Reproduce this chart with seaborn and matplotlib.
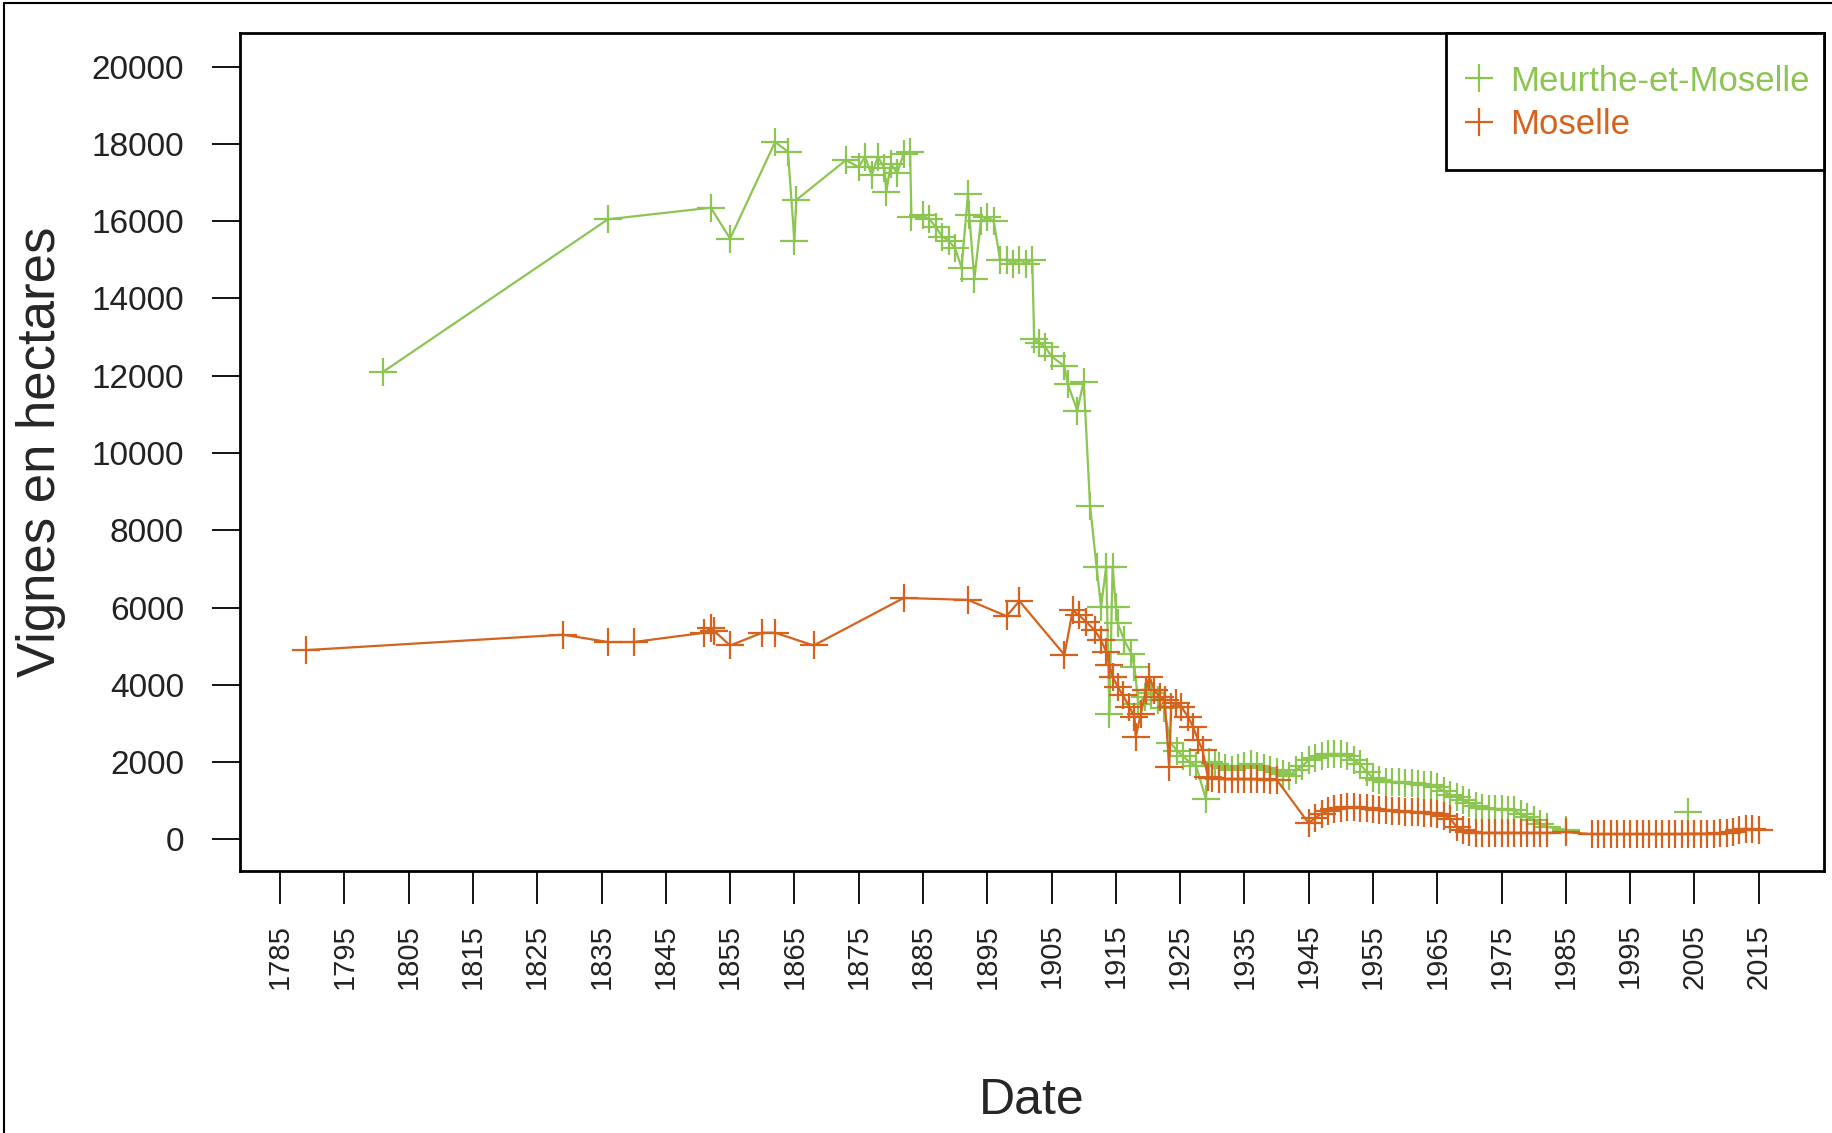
"""Surface des vignes en Meurthe-et-Moselle et en Moselle."""
import pandas as pd
import matplotlib
matplotlib.use("Agg")
import matplotlib.pyplot as plt
import seaborn as sns
from matplotlib.lines import Line2D
from matplotlib.patches import Rectangle

# Meurthe-et-Moselle
mm_years = [1801, 1836, 1852, 1855, 1862, 1864, 1865, 1865.3,
            1873, 1875, 1876, 1877, 1878, 1879, 1879.3, 1880, 1881, 1882, 1883, 1883.2,
            1885, 1886, 1887, 1888, 1889, 1890, 1891, 1892, 1892.2, 1893,
            1894, 1895, 1896, 1897, 1898, 1899, 1900, 1901, 1902, 1902.3,
            1903, 1904, 1905, 1907, 1907.5, 1909, 1910, 1911, 1912, 1912.7,
            1913.5, 1914, 1914.5, 1915, 1915.3, 1916.3, 1917.4, 1917.9,
            1918.5, 1919.5, 1920.5, 1921.5, 1922.5, 1923.5, 1924.5, 1925.5, 1926.5, 1927.5,
            1929, 1929.5, 1930.5, 1931, 1932, 1933, 1934, 1935, 1936, 1937, 1938, 1939,
            1940, 1941, 1942, 1943, 1944, 1945, 1946, 1947, 1948, 1949, 1950, 1951,
            1952, 1953, 1954, 1955, 1956, 1957, 1958, 1959, 1960, 1961, 1962, 1963,
            1964, 1965, 1966, 1967, 1968, 1969, 1970, 1971, 1972, 1973, 1974, 1975,
            1976, 1977, 1978, 1979, 1980, 1981, 1982, 1985]
mm_ha = [12100, 16050, 16350, 15550, 18050, 17800, 15500, 16550,
         17580, 17400, 17670, 17190, 17670, 17370, 16760, 17490, 17240, 17750, 17800, 16100,
         16150, 16050, 15850, 15600, 15500, 15300, 14800, 16700, 16150, 14500,
         16000, 16100, 16000, 15000, 15000, 14900, 15000, 14900, 15000, 12950,
         12850, 12750, 12500, 12250, 11800, 11100, 11850, 8620, 7060, 6020,
         7060, 3260, 7060, 6020, 5590, 5160, 4810, 4470,
         3500, 3700, 3800, 3600, 3400, 2500, 2300, 2150, 2000, 1900,
         1050, 2000, 1950, 1900, 1850, 1800, 1850, 1900, 1950, 1900, 1850, 1800,
         1750, 1700, 1650, 1800, 1900, 2050, 2100, 2150, 2200, 2200, 2200, 2150,
         2050, 1950, 1750, 1600, 1530, 1500, 1480, 1480, 1460, 1450, 1440, 1420,
         1400, 1350, 1250, 1150, 1100, 1020, 950, 870, 820, 800, 790, 780,
         770, 750, 650, 580, 500, 400, 330, 250]
mm_iso_year = [2004]
mm_iso_ha = [700]

# Moselle
mo_years = [1789, 1829, 1836, 1840, 1851, 1852, 1852.5, 1855, 1860, 1862, 1868,
            1882, 1892, 1898, 1900, 1907, 1908.3, 1909.3, 1910.4, 1911.7, 1912.7,
            1913.5, 1914, 1914.5, 1915.3, 1916.1, 1917.1, 1917.9, 1918.1, 1918.9,
            1919.7, 1920.2, 1921, 1921.8, 1922.6, 1923.3, 1923.6, 1924.4, 1925.2,
            1926.2, 1927, 1927.8, 1928.5, 1929.3,
            1930, 1931, 1932, 1933, 1934, 1935, 1936, 1937, 1938, 1939, 1940,
            1945, 1946, 1947, 1948, 1949, 1950, 1951, 1952, 1953, 1954, 1955, 1956,
            1957, 1958, 1959, 1960, 1961, 1962, 1963, 1964, 1965, 1966, 1967, 1968,
            1969, 1970, 1971, 1972, 1973, 1974, 1975, 1976, 1977, 1978, 1979, 1980,
            1981, 1982, 1985,
            1989, 1990, 1991, 1992, 1993, 1994, 1995, 1996, 1997, 1998, 1999, 2000,
            2001, 2002, 2003, 2004, 2005, 2006, 2007, 2008, 2009, 2010, 2011, 2012,
            2013, 2014, 2015]
mo_ha = [4900, 5300, 5110, 5110, 5350, 5480, 5400, 5020, 5350, 5350, 5020,
         6250, 6200, 5780, 6170, 4780, 5930, 5800, 5630, 5420, 5160,
         4860, 4510, 4210, 3950, 3740, 3430, 3180, 2660, 3260,
         3870, 4210, 3870, 3690, 3610, 1880, 3430, 3520, 3430,
         3180, 2920, 2570, 2310, 1620,
         1580, 1570, 1560, 1560, 1560, 1560, 1560, 1560, 1560, 1550, 1550,
         420, 560, 670, 740, 790, 820, 830, 830, 820, 810, 790, 770,
         750, 740, 730, 720, 710, 700, 690, 680, 660, 620, 540, 330,
         250, 200, 180, 170, 170, 170, 170, 170, 170, 170, 170, 170,
         170, 170, 190,
         140, 140, 140, 140, 140, 140, 140, 140, 140, 140, 140, 140,
         140, 140, 140, 150, 150, 150, 150, 150, 160, 170, 200, 240,
         280, 260, 250]

x_ticks = list(range(1785, 2016, 10))
y_ticks = list(range(0, 20001, 2000))

GREEN = "#8CC552"
ORANGE = "#D5621D"

sns.set_style("white")
plt.rcParams["font.family"] = ["Liberation Sans", "DejaVu Sans"]

fig = plt.figure(figsize=(18.33, 11.33), dpi=100)
ax = fig.add_axes([0.1307, 0.2312, 0.8642, 0.7399])

mm = pd.DataFrame({"annee": mm_years, "ha": mm_ha})
mo = pd.DataFrame({"annee": mo_years, "ha": mo_ha})

line_kw = dict(marker="+", markersize=20, linewidth=1.6, estimator=None, sort=False)
sns.lineplot(data=mm, x="annee", y="ha", ax=ax, color=GREEN,
             markeredgecolor=GREEN, markeredgewidth=1.6, **line_kw)
sns.scatterplot(x=mm_iso_year, y=mm_iso_ha, ax=ax, color=GREEN, marker="+",
                s=400, linewidth=1.6)
sns.lineplot(data=mo, x="annee", y="ha", ax=ax, color=ORANGE,
             markeredgecolor=ORANGE, markeredgewidth=1.6, **line_kw)

ax.set_xlim(1778.7, 2025.1)
ax.set_ylim(-817, 20877)
ax.set_xticks(x_ticks)
ax.set_xticklabels([str(t) for t in x_ticks], rotation=90, fontsize=21)
ax.set_yticks(y_ticks)
ax.set_yticklabels([str(t) for t in y_ticks], fontsize=24)
ax.tick_params(axis="x", bottom=True, direction="out", length=24, width=1.3, pad=14,
               colors="black")
ax.tick_params(axis="y", left=True, direction="out", length=20, width=1.3, pad=20,
               colors="black")
ax.tick_params(labelcolor="#222222")
for sp in ax.spines.values():
    sp.set_visible(True)
    sp.set_color("black")
    sp.set_linewidth(2)

ax.set_xlabel("Date", fontsize=36, labelpad=64)
ax.set_ylabel("Vignes en hectares", fontsize=38, labelpad=18)

# cadre de la légende (style R)
ax.add_patch(Rectangle((0.7616, 0.8368), 0.2384, 0.1632, transform=ax.transAxes,
                       facecolor="white", edgecolor="black", linewidth=2,
                       zorder=4.5, clip_on=False))
handles = [Line2D([], [], color=GREEN, marker="+", linestyle="none", markersize=20, mew=1.6),
           Line2D([], [], color=ORANGE, marker="+", linestyle="none", markersize=20, mew=1.6)]
leg = ax.legend(handles, ["Meurthe-et-Moselle", "Moselle"], loc="upper left",
                bbox_to_anchor=(0.7734, 0.962), fontsize=25, frameon=False,
                borderaxespad=0, borderpad=0, handlelength=0.8, handletextpad=0.5,
                labelspacing=0.3, labelcolor=[GREEN, ORANGE])
leg.set_zorder(5)

# cadre de la capture
fig.add_artist(Line2D([0.002, 0.002], [0, 0.997], transform=fig.transFigure, color="black", lw=1.5))
fig.add_artist(Line2D([0.002, 1], [0.997, 0.997], transform=fig.transFigure, color="black", lw=1.5))

fig.savefig("out.png", dpi=100)
